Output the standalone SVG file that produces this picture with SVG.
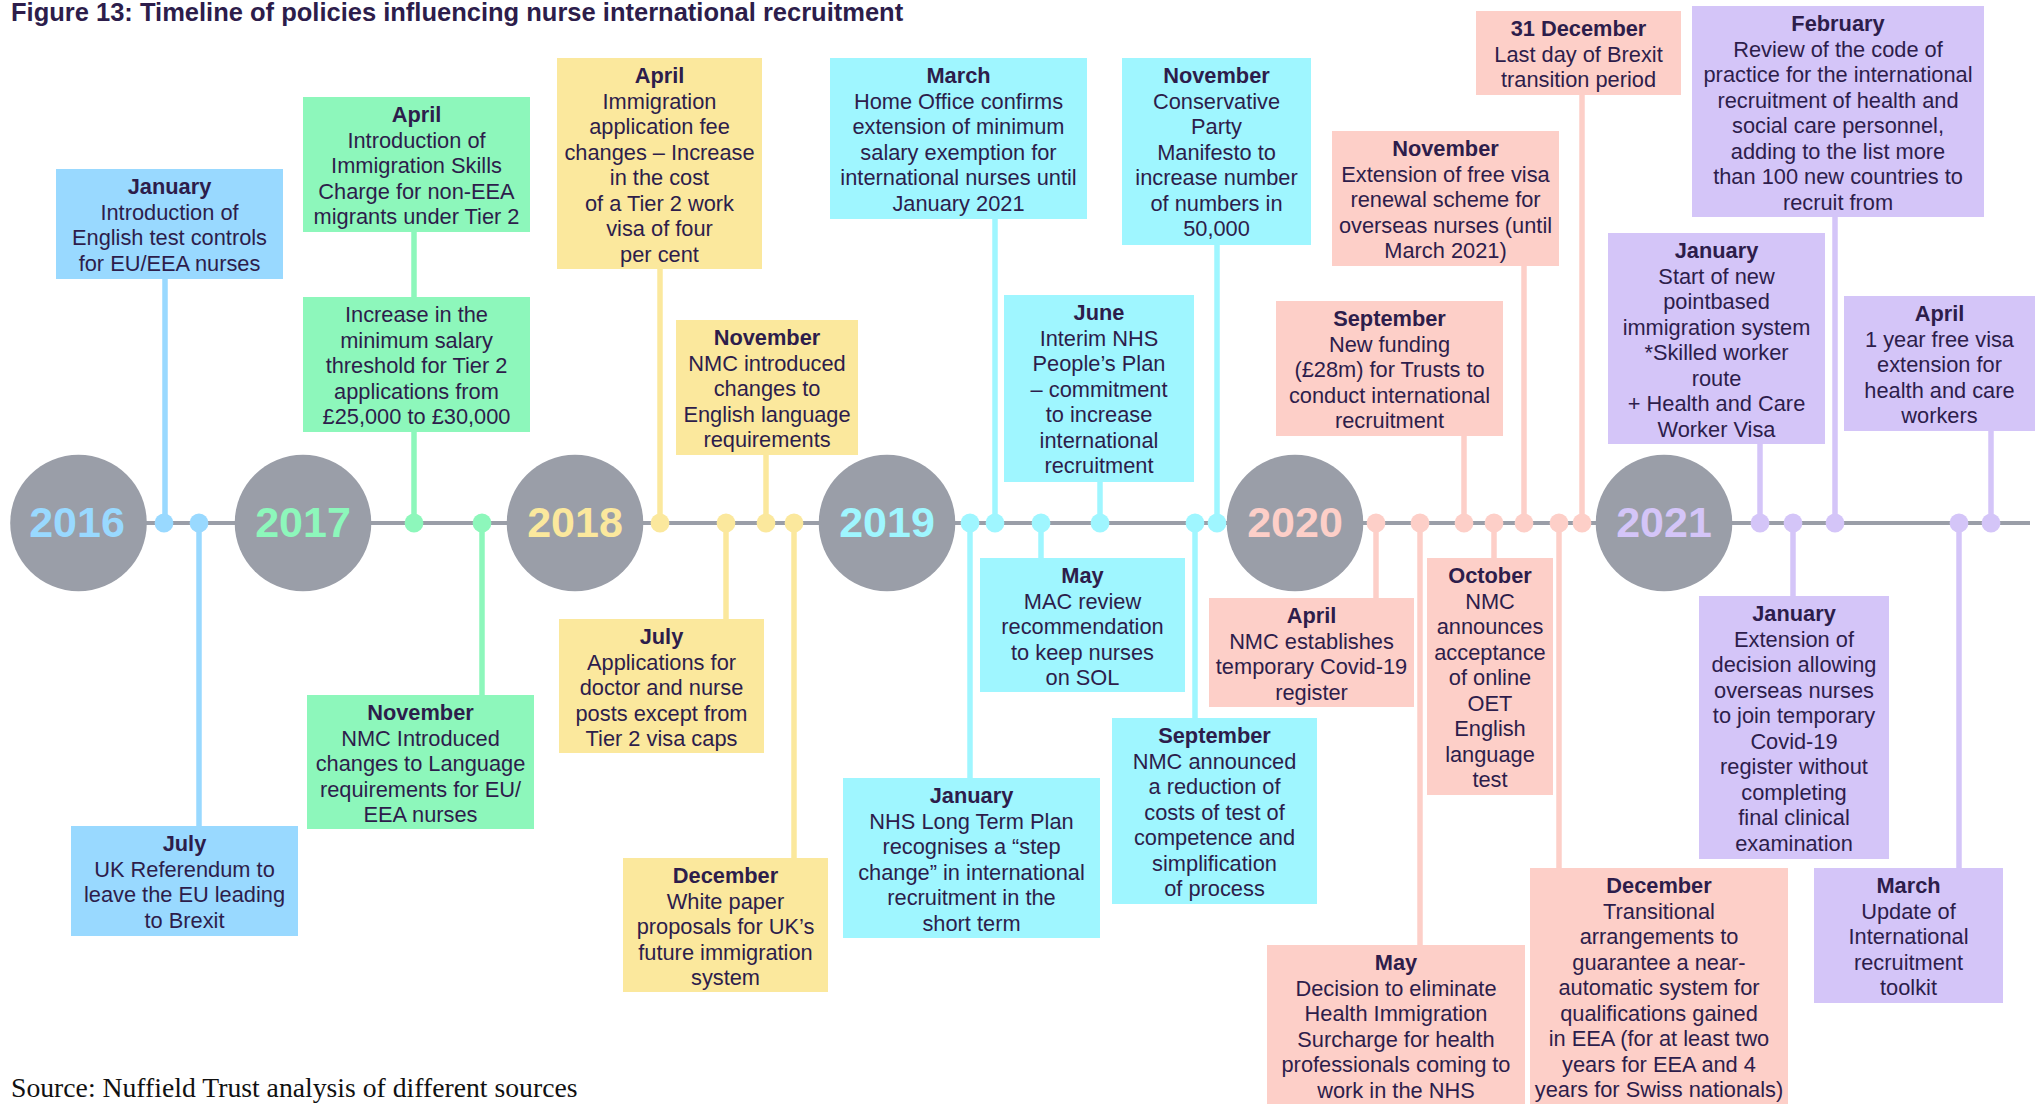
<svg xmlns="http://www.w3.org/2000/svg" width="2037" height="1104" viewBox="0 0 2037 1104">
<style>
.t{font-family:"Liberation Sans",Arial,sans-serif;font-size:21.8px;fill:#2d1d4b;text-anchor:middle}
.b{font-weight:bold}
.yr{font-family:"Liberation Sans",Arial,sans-serif;font-size:43px;font-weight:bold;text-anchor:middle}
.c16{fill:#99d9ff}.c17{fill:#8df7bb}.c18{fill:#fbe89d}.c19{fill:#9ff6ff}.c20{fill:#fdcfc8}.c21{fill:#d4c5f8}
.s16{stroke:#99d9ff}.s17{stroke:#8df7bb}.s18{stroke:#fbe89d}.s19{stroke:#9ff6ff}.s20{stroke:#fdcfc8}.s21{stroke:#d4c5f8}
.ln{stroke-width:5.5;fill:none}
.circ{fill:#9a9ea8}
</style>
<rect width="2037" height="1104" fill="#ffffff"/>
<text x="11" y="21" font-family="Liberation Sans,Arial,sans-serif" font-size="25.5" font-weight="bold" fill="#2d1d4b">Figure 13: Timeline of policies influencing nurse international recruitment</text>

<g id="timeline">
<line x1="78" y1="523" x2="2030" y2="523" stroke="#9a9ea8" stroke-width="4"/>
</g>

<g id="connectors">
<line class="ln s16" x1="165" y1="279" x2="165" y2="523"/>
<line class="ln s16" x1="199" y1="523" x2="199" y2="826"/>
<line class="ln s17" x1="414" y1="232" x2="414" y2="523"/>
<line class="ln s17" x1="482" y1="523" x2="482" y2="695"/>
<line class="ln s18" x1="660" y1="269" x2="660" y2="523"/>
<line class="ln s18" x1="726" y1="523" x2="726" y2="619"/>
<line class="ln s18" x1="766" y1="455" x2="766" y2="523"/>
<line class="ln s18" x1="794" y1="523" x2="794" y2="858"/>
<line class="ln s19" x1="970" y1="523" x2="970" y2="778"/>
<line class="ln s19" x1="995" y1="219" x2="995" y2="523"/>
<line class="ln s19" x1="1041" y1="523" x2="1041" y2="558"/>
<line class="ln s19" x1="1100" y1="482" x2="1100" y2="523"/>
<line class="ln s19" x1="1195" y1="523" x2="1195" y2="718"/>
<line class="ln s19" x1="1217" y1="245" x2="1217" y2="523"/>
<line class="ln s20" x1="1376" y1="523" x2="1376" y2="598"/>
<line class="ln s20" x1="1420" y1="523" x2="1420" y2="945"/>
<line class="ln s20" x1="1464" y1="436" x2="1464" y2="523"/>
<line class="ln s20" x1="1494" y1="523" x2="1494" y2="558"/>
<line class="ln s20" x1="1524" y1="266" x2="1524" y2="523"/>
<line class="ln s20" x1="1559" y1="523" x2="1559" y2="868"/>
<line class="ln s20" x1="1582" y1="95" x2="1582" y2="523"/>
<line class="ln s21" x1="1760" y1="444" x2="1760" y2="523"/>
<line class="ln s21" x1="1793" y1="523" x2="1793" y2="596"/>
<line class="ln s21" x1="1835" y1="217" x2="1835" y2="523"/>
<line class="ln s21" x1="1959" y1="523" x2="1959" y2="868"/>
<line class="ln s21" x1="1991" y1="431" x2="1991" y2="523"/>
<g id="dots">
<circle class="c16" cx="164" cy="523" r="9.4"/>
<circle class="c16" cx="199" cy="523" r="9.4"/>
<circle class="c17" cx="414" cy="523" r="9.4"/>
<circle class="c17" cx="482" cy="523" r="9.4"/>
<circle class="c18" cx="660" cy="523" r="9.4"/>
<circle class="c18" cx="726" cy="523" r="9.4"/>
<circle class="c18" cx="766" cy="523" r="9.4"/>
<circle class="c18" cx="794" cy="523" r="9.4"/>
<circle class="c19" cx="970" cy="523" r="9.4"/>
<circle class="c19" cx="995" cy="523" r="9.4"/>
<circle class="c19" cx="1041" cy="523" r="9.4"/>
<circle class="c19" cx="1100" cy="523" r="9.4"/>
<circle class="c19" cx="1195" cy="523" r="9.4"/>
<circle class="c19" cx="1217" cy="523" r="9.4"/>
<circle class="c20" cx="1376" cy="523" r="9.4"/>
<circle class="c20" cx="1420" cy="523" r="9.4"/>
<circle class="c20" cx="1464" cy="523" r="9.4"/>
<circle class="c20" cx="1494" cy="523" r="9.4"/>
<circle class="c20" cx="1524" cy="523" r="9.4"/>
<circle class="c20" cx="1559" cy="523" r="9.4"/>
<circle class="c20" cx="1582" cy="523" r="9.4"/>
<circle class="c21" cx="1760" cy="523" r="9.4"/>
<circle class="c21" cx="1793" cy="523" r="9.4"/>
<circle class="c21" cx="1835" cy="523" r="9.4"/>
<circle class="c21" cx="1959" cy="523" r="9.4"/>
<circle class="c21" cx="1991" cy="523" r="9.4"/>
</g>
</g>

<g id="y2016"><circle class="circ" cx="78.5" cy="523" r="68.3"/><text class="yr c16" x="77" y="537">2016</text></g>
<g id="y2017"><circle class="circ" cx="303" cy="523" r="68.3"/><text class="yr c17" x="303" y="537">2017</text></g>
<g id="y2018"><circle class="circ" cx="575" cy="523" r="68.3"/><text class="yr c18" x="575" y="537">2018</text></g>
<g id="y2019"><circle class="circ" cx="887" cy="523" r="68.3"/><text class="yr c19" x="887" y="537">2019</text></g>
<g id="y2020"><circle class="circ" cx="1295" cy="523" r="68.3"/><text class="yr c20" x="1295" y="537">2020</text></g>
<g id="y2021"><circle class="circ" cx="1664" cy="523" r="68.3"/><text class="yr c21" x="1664" y="537">2021</text></g>

<g id="jan2016"><rect class="c16" x="56" y="169" width="227" height="110"/>
<text class="t" x="169.5" y="194"><tspan class="b">January</tspan><tspan x="169.5" dy="25.5">Introduction of</tspan><tspan x="169.5" dy="25.5">English test controls</tspan><tspan x="169.5" dy="25.5">for EU/EEA nurses</tspan></text></g>

<g id="jul2016"><rect class="c16" x="71" y="826" width="227" height="110"/>
<text class="t" x="184.5" y="851"><tspan class="b">July</tspan><tspan x="184.5" dy="25.5">UK Referendum to</tspan><tspan x="184.5" dy="25.5">leave the EU leading</tspan><tspan x="184.5" dy="25.5">to Brexit</tspan></text></g>

<g id="apr2017"><rect class="c17" x="303" y="97" width="227" height="135"/>
<text class="t" x="416.5" y="122"><tspan class="b">April</tspan><tspan x="416.5" dy="25.5">Introduction of</tspan><tspan x="416.5" dy="25.5">Immigration Skills</tspan><tspan x="416.5" dy="25.5">Charge for non-EEA</tspan><tspan x="416.5" dy="25.5">migrants under Tier 2</tspan></text></g>

<g id="apr2017b"><rect class="c17" x="303" y="297" width="227" height="135"/>
<text class="t" x="416.5" y="322"><tspan>Increase in the</tspan><tspan x="416.5" dy="25.5">minimum salary</tspan><tspan x="416.5" dy="25.5">threshold for Tier 2</tspan><tspan x="416.5" dy="25.5">applications from</tspan><tspan x="416.5" dy="25.5">£25,000 to £30,000</tspan></text></g>

<g id="nov2017"><rect class="c17" x="307" y="695" width="227" height="134"/>
<text class="t" x="420.5" y="720"><tspan class="b">November</tspan><tspan x="420.5" dy="25.5">NMC Introduced</tspan><tspan x="420.5" dy="25.5">changes to Language</tspan><tspan x="420.5" dy="25.5">requirements for EU/</tspan><tspan x="420.5" dy="25.5">EEA nurses</tspan></text></g>

<g id="apr2018"><rect class="c18" x="557" y="58" width="205" height="211"/>
<text class="t" x="659.5" y="83"><tspan class="b">April</tspan><tspan x="659.5" dy="25.5">Immigration</tspan><tspan x="659.5" dy="25.5">application fee</tspan><tspan x="659.5" dy="25.5">changes – Increase</tspan><tspan x="659.5" dy="25.5">in the cost</tspan><tspan x="659.5" dy="25.5">of a Tier 2 work</tspan><tspan x="659.5" dy="25.5">visa of four</tspan><tspan x="659.5" dy="25.5">per cent</tspan></text></g>

<g id="nov2018"><rect class="c18" x="676" y="320" width="182" height="135"/>
<text class="t" x="767" y="345"><tspan class="b">November</tspan><tspan x="767" dy="25.5">NMC introduced</tspan><tspan x="767" dy="25.5">changes to</tspan><tspan x="767" dy="25.5">English language</tspan><tspan x="767" dy="25.5">requirements</tspan></text></g>

<g id="jul2018"><rect class="c18" x="559" y="619" width="205" height="134"/>
<text class="t" x="661.5" y="644"><tspan class="b">July</tspan><tspan x="661.5" dy="25.5">Applications for</tspan><tspan x="661.5" dy="25.5">doctor and nurse</tspan><tspan x="661.5" dy="25.5">posts except from</tspan><tspan x="661.5" dy="25.5">Tier 2 visa caps</tspan></text></g>

<g id="dec2018"><rect class="c18" x="623" y="858" width="205" height="134"/>
<text class="t" x="725.5" y="883"><tspan class="b">December</tspan><tspan x="725.5" dy="25.5">White paper</tspan><tspan x="725.5" dy="25.5">proposals for UK’s</tspan><tspan x="725.5" dy="25.5">future immigration</tspan><tspan x="725.5" dy="25.5">system</tspan></text></g>

<g id="mar2019"><rect class="c19" x="830" y="58" width="257" height="161"/>
<text class="t" x="958.5" y="83"><tspan class="b">March</tspan><tspan x="958.5" dy="25.5">Home Office confirms</tspan><tspan x="958.5" dy="25.5">extension of minimum</tspan><tspan x="958.5" dy="25.5">salary exemption for</tspan><tspan x="958.5" dy="25.5">international nurses until</tspan><tspan x="958.5" dy="25.5">January 2021</tspan></text></g>

<g id="jan2019"><rect class="c19" x="843" y="778" width="257" height="160"/>
<text class="t" x="971.5" y="803"><tspan class="b">January</tspan><tspan x="971.5" dy="25.5">NHS Long Term Plan</tspan><tspan x="971.5" dy="25.5">recognises a “step</tspan><tspan x="971.5" dy="25.5">change” in international</tspan><tspan x="971.5" dy="25.5">recruitment in the</tspan><tspan x="971.5" dy="25.5">short term</tspan></text></g>

<g id="may2019"><rect class="c19" x="980" y="558" width="205" height="134"/>
<text class="t" x="1082.5" y="583"><tspan class="b">May</tspan><tspan x="1082.5" dy="25.5">MAC review</tspan><tspan x="1082.5" dy="25.5">recommendation</tspan><tspan x="1082.5" dy="25.5">to keep nurses</tspan><tspan x="1082.5" dy="25.5">on SOL</tspan></text></g>

<g id="jun2019"><rect class="c19" x="1004" y="295" width="190" height="187"/>
<text class="t" x="1099" y="320"><tspan class="b">June</tspan><tspan x="1099" dy="25.5">Interim NHS</tspan><tspan x="1099" dy="25.5">People’s Plan</tspan><tspan x="1099" dy="25.5">– commitment</tspan><tspan x="1099" dy="25.5">to increase</tspan><tspan x="1099" dy="25.5">international</tspan><tspan x="1099" dy="25.5">recruitment</tspan></text></g>

<g id="sep2019"><rect class="c19" x="1112" y="718" width="205" height="186"/>
<text class="t" x="1214.5" y="743"><tspan class="b">September</tspan><tspan x="1214.5" dy="25.5">NMC announced</tspan><tspan x="1214.5" dy="25.5">a reduction of</tspan><tspan x="1214.5" dy="25.5">costs of test of</tspan><tspan x="1214.5" dy="25.5">competence and</tspan><tspan x="1214.5" dy="25.5">simplification</tspan><tspan x="1214.5" dy="25.5">of process</tspan></text></g>

<g id="nov2019"><rect class="c19" x="1122" y="58" width="189" height="187"/>
<text class="t" x="1216.5" y="83"><tspan class="b">November</tspan><tspan x="1216.5" dy="25.5">Conservative</tspan><tspan x="1216.5" dy="25.5">Party</tspan><tspan x="1216.5" dy="25.5">Manifesto to</tspan><tspan x="1216.5" dy="25.5">increase number</tspan><tspan x="1216.5" dy="25.5">of numbers in</tspan><tspan x="1216.5" dy="25.5">50,000</tspan></text></g>

<g id="apr2020"><rect class="c20" x="1209" y="598" width="205" height="109"/>
<text class="t" x="1311.5" y="623"><tspan class="b">April</tspan><tspan x="1311.5" dy="25.5">NMC establishes</tspan><tspan x="1311.5" dy="25.5">temporary Covid-19</tspan><tspan x="1311.5" dy="25.5">register</tspan></text></g>

<g id="may2020"><rect class="c20" x="1267" y="945" width="258" height="165"/>
<text class="t" x="1396" y="970"><tspan class="b">May</tspan><tspan x="1396" dy="25.5">Decision to eliminate</tspan><tspan x="1396" dy="25.5">Health Immigration</tspan><tspan x="1396" dy="25.5">Surcharge for health</tspan><tspan x="1396" dy="25.5">professionals coming to</tspan><tspan x="1396" dy="25.5">work in the NHS</tspan></text></g>

<g id="sep2020"><rect class="c20" x="1276" y="301" width="227" height="135"/>
<text class="t" x="1389.5" y="326"><tspan class="b">September</tspan><tspan x="1389.5" dy="25.5">New funding</tspan><tspan x="1389.5" dy="25.5">(£28m) for Trusts to</tspan><tspan x="1389.5" dy="25.5">conduct international</tspan><tspan x="1389.5" dy="25.5">recruitment</tspan></text></g>

<g id="oct2020"><rect class="c20" x="1427" y="558" width="126" height="237"/>
<text class="t" x="1490" y="583"><tspan class="b">October</tspan><tspan x="1490" dy="25.5">NMC</tspan><tspan x="1490" dy="25.5">announces</tspan><tspan x="1490" dy="25.5">acceptance</tspan><tspan x="1490" dy="25.5">of online</tspan><tspan x="1490" dy="25.5">OET</tspan><tspan x="1490" dy="25.5">English</tspan><tspan x="1490" dy="25.5">language</tspan><tspan x="1490" dy="25.5">test</tspan></text></g>

<g id="nov2020"><rect class="c20" x="1332" y="131" width="227" height="135"/>
<text class="t" x="1445.5" y="156"><tspan class="b">November</tspan><tspan x="1445.5" dy="25.5">Extension of free visa</tspan><tspan x="1445.5" dy="25.5">renewal scheme for</tspan><tspan x="1445.5" dy="25.5">overseas nurses (until</tspan><tspan x="1445.5" dy="25.5">March 2021)</tspan></text></g>

<g id="dec2020"><rect class="c20" x="1530" y="868" width="258" height="242"/>
<text class="t" x="1659" y="893"><tspan class="b">December</tspan><tspan x="1659" dy="25.5">Transitional</tspan><tspan x="1659" dy="25.5">arrangements to</tspan><tspan x="1659" dy="25.5">guarantee a near-</tspan><tspan x="1659" dy="25.5">automatic system for</tspan><tspan x="1659" dy="25.5">qualifications gained</tspan><tspan x="1659" dy="25.5">in EEA (for at least two</tspan><tspan x="1659" dy="25.5">years for EEA and 4</tspan><tspan x="1659" dy="25.5">years for Swiss nationals)</tspan></text></g>

<g id="dec31_2020"><rect class="c20" x="1476" y="11" width="205" height="84"/>
<text class="t" x="1578.5" y="36"><tspan class="b">31 December</tspan><tspan x="1578.5" dy="25.5">Last day of Brexit</tspan><tspan x="1578.5" dy="25.5">transition period</tspan></text></g>

<g id="jan2021a"><rect class="c21" x="1608" y="233" width="217" height="211"/>
<text class="t" x="1716.5" y="258"><tspan class="b">January</tspan><tspan x="1716.5" dy="25.5">Start of new</tspan><tspan x="1716.5" dy="25.5">pointbased</tspan><tspan x="1716.5" dy="25.5">immigration system</tspan><tspan x="1716.5" dy="25.5">*Skilled worker</tspan><tspan x="1716.5" dy="25.5">route</tspan><tspan x="1716.5" dy="25.5">+ Health and Care</tspan><tspan x="1716.5" dy="25.5">Worker Visa</tspan></text></g>

<g id="jan2021b"><rect class="c21" x="1699" y="596" width="190" height="263"/>
<text class="t" x="1794" y="621"><tspan class="b">January</tspan><tspan x="1794" dy="25.5">Extension of</tspan><tspan x="1794" dy="25.5">decision allowing</tspan><tspan x="1794" dy="25.5">overseas nurses</tspan><tspan x="1794" dy="25.5">to join temporary</tspan><tspan x="1794" dy="25.5">Covid-19</tspan><tspan x="1794" dy="25.5">register without</tspan><tspan x="1794" dy="25.5">completing</tspan><tspan x="1794" dy="25.5">final clinical</tspan><tspan x="1794" dy="25.5">examination</tspan></text></g>

<g id="feb2021"><rect class="c21" x="1692" y="6" width="292" height="211"/>
<text class="t" x="1838" y="31"><tspan class="b">February</tspan><tspan x="1838" dy="25.5">Review of the code of</tspan><tspan x="1838" dy="25.5">practice for the international</tspan><tspan x="1838" dy="25.5">recruitment of health and</tspan><tspan x="1838" dy="25.5">social care personnel,</tspan><tspan x="1838" dy="25.5">adding to the list more</tspan><tspan x="1838" dy="25.5">than 100 new countries to</tspan><tspan x="1838" dy="25.5">recruit from</tspan></text></g>

<g id="mar2021"><rect class="c21" x="1814" y="868" width="189" height="135"/>
<text class="t" x="1908.5" y="893"><tspan class="b">March</tspan><tspan x="1908.5" dy="25.5">Update of</tspan><tspan x="1908.5" dy="25.5">International</tspan><tspan x="1908.5" dy="25.5">recruitment</tspan><tspan x="1908.5" dy="25.5">toolkit</tspan></text></g>

<g id="apr2021"><rect class="c21" x="1844" y="296" width="191" height="135"/>
<text class="t" x="1939.5" y="321"><tspan class="b">April</tspan><tspan x="1939.5" dy="25.5">1 year free visa</tspan><tspan x="1939.5" dy="25.5">extension for</tspan><tspan x="1939.5" dy="25.5">health and care</tspan><tspan x="1939.5" dy="25.5">workers</tspan></text></g>

<text x="11" y="1097" font-family="Liberation Serif,Times New Roman,serif" font-size="27.7" fill="#111111">Source: Nuffield Trust analysis of different sources</text>
</svg>
